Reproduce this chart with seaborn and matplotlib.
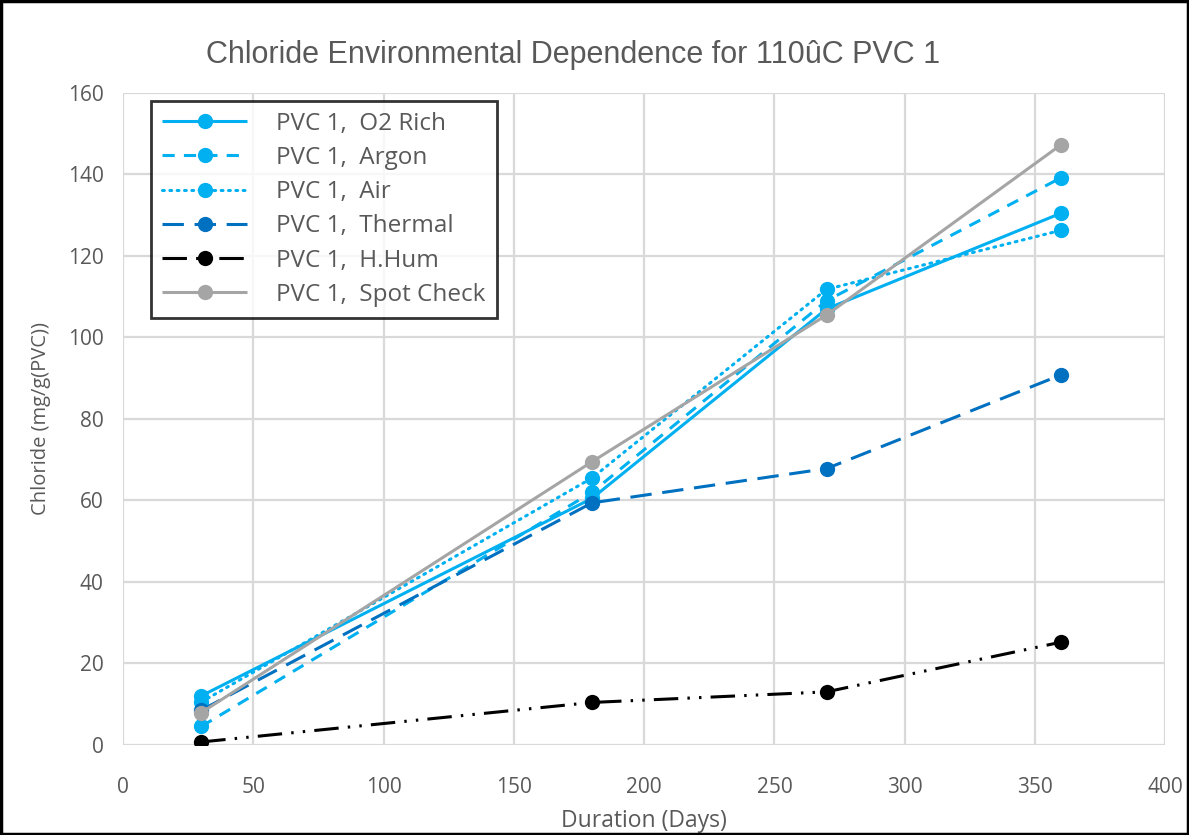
import matplotlib
matplotlib.use("Agg")
import matplotlib.pyplot as plt
import seaborn as sns
import pandas as pd
from matplotlib.patches import Rectangle

days = [30, 180, 270, 360]
o2_rich = [12.0, 60.5, 107.0, 130.5]
argon = [4.5, 62.0, 109.0, 139.2]
air = [10.5, 65.5, 111.8, 126.3]
thermal = [8.5, 59.4, 67.8, 90.8]
h_hum = [0.7, 10.4, 13.0, 25.2]
spot_check = [7.9, 69.5, 105.5, 147.3]

labels = ["PVC 1,  O2 Rich", "PVC 1,  Argon", "PVC 1,  Air",
          "PVC 1,  Thermal", "PVC 1,  H.Hum", "PVC 1,  Spot Check"]
series = [o2_rich, argon, air, thermal, h_hum, spot_check]
colors = ["#00B0F0", "#00B0F0", "#00B0F0", "#0070C0", "#000000", "#A5A5A5"]
styles = ["-", (0, (4, 3)), (0, (0.6, 1.8)), (0, (7, 3.5)),
          (0, (8, 3, 0.8, 3, 0.8, 3)), "-"]

sns.set_theme(style="white")
plt.rcParams['font.family'] = ['Open Sans', 'DejaVu Sans']

fig = plt.figure(figsize=(11.89, 8.35), dpi=100)
ax = fig.add_axes([0.1035, 0.108, 0.8765, 0.7806])

for lab, vals, col, ls in zip(labels, series, colors, styles):
    df = pd.DataFrame({"Duration": days, "Chloride": vals})
    cap = "round" if ls == (0, (0.6, 1.8)) else "butt"
    sns.lineplot(data=df, x="Duration", y="Chloride", ax=ax, color=col,
                 linestyle=ls, linewidth=2.2, marker="o", markersize=11,
                 markeredgewidth=0, label=lab, dash_capstyle=cap,
                 solid_capstyle="butt")

ax.set_xlim(0, 400)
ax.set_ylim(0, 160)
ax.set_xticks(range(0, 401, 50))
ax.set_yticks(range(0, 161, 20))
ax.grid(True, color="#D9D9D9", linewidth=1.6)
for s in ax.spines.values():
    s.set_visible(False)
ax.tick_params(axis="both", labelsize=15, colors="#595959", length=0)
ax.tick_params(axis="x", pad=23)
ax.tick_params(axis="y", pad=14)
ax.set_xlabel("Duration (Days)", fontsize=16.5, color="#595959", labelpad=8)
ax.set_ylabel("Chloride (mg/g(PVC))", fontsize=14.5, color="#595959", labelpad=12)

fig.text(0.482, 0.934, "Chloride Environmental Dependence for 110ûC PVC 1",
         ha="center", va="center", fontsize=22, color="#595959",
         family=["Liberation Sans", "DejaVu Sans"])

leg = ax.legend(loc="upper left", bbox_to_anchor=(0.0269, 0.988), borderaxespad=0,
                fontsize=17.5, frameon=True, fancybox=False, edgecolor="black",
                handlelength=3.5, handletextpad=1.2, borderpad=0.45,
                labelspacing=0.42)
leg.get_frame().set_linewidth(2)
for t in leg.get_texts():
    t.set_color("#595959")

fig.patches.append(Rectangle((0.001, 0.001), 0.998, 0.998, transform=fig.transFigure,
                             fill=False, edgecolor="black", linewidth=2.5))

fig.savefig("out.png", dpi=100)
